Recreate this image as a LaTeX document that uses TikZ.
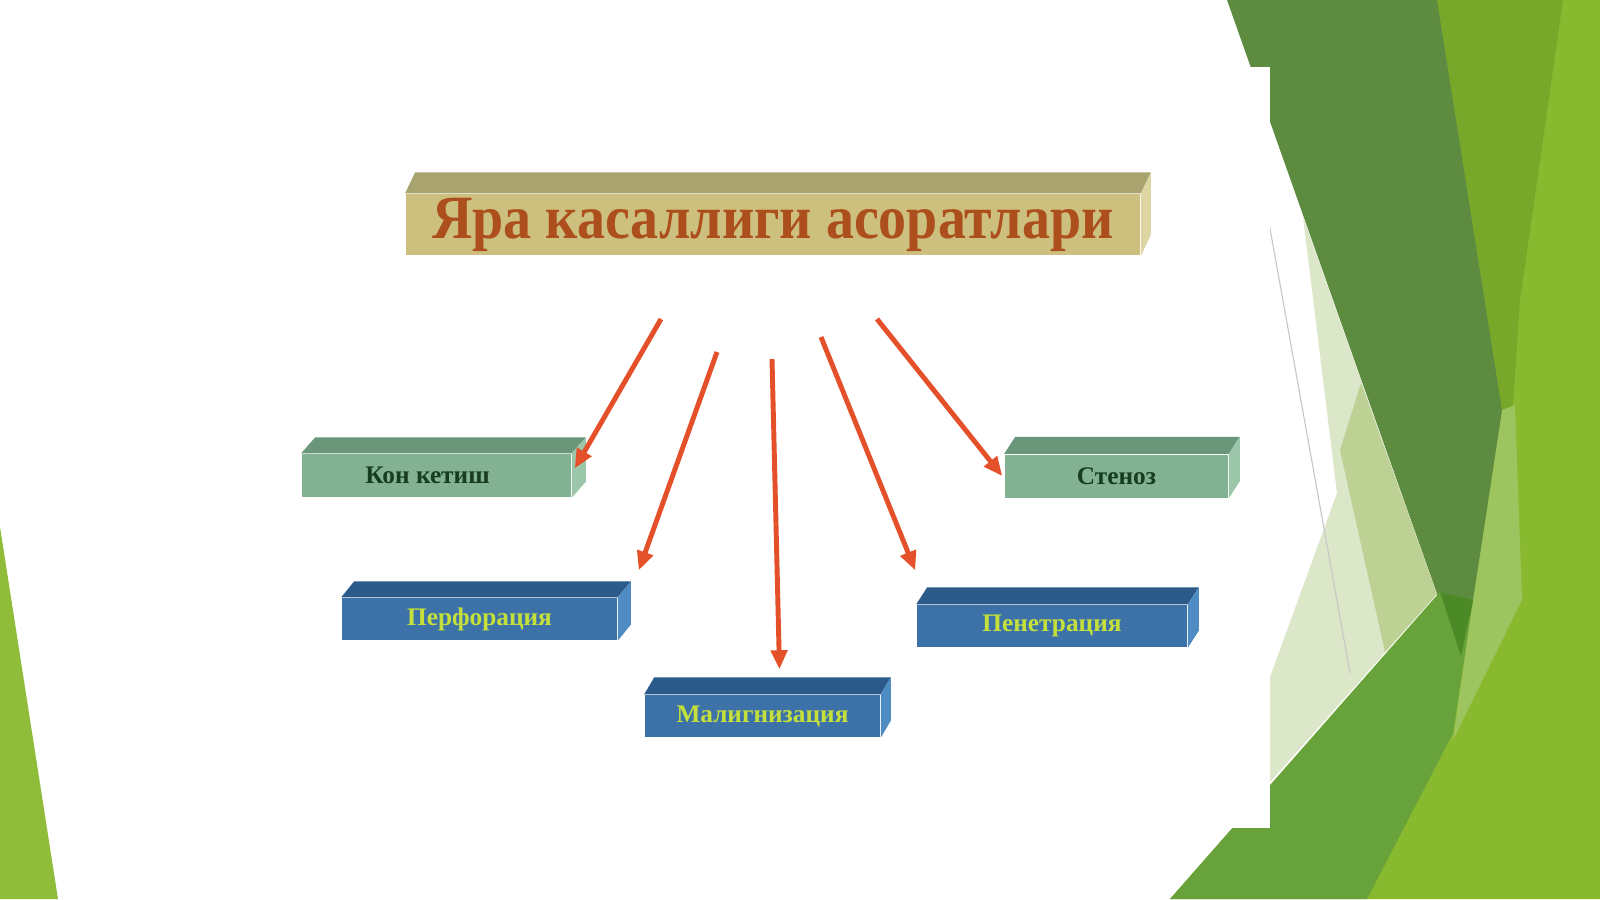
\documentclass[tikz,border=0pt]{standalone}
\usepackage{fontspec}
\setmainfont{Liberation Serif}
\usetikzlibrary{arrows.meta,calc}

\definecolor{leafdark}{HTML}{5D8B3F}
\definecolor{leafolive}{HTML}{78A82A}
\definecolor{leaflime}{HTML}{88B92F}
\definecolor{leaflight}{HTML}{9DC45E}
\definecolor{leafband}{HTML}{68A23B}
\definecolor{leaftip}{HTML}{4C8A28}
\definecolor{leafpale}{HTML}{DCE6C8}
\definecolor{leafmid}{HTML}{BDD194}
\definecolor{leafleft}{HTML}{8FBD3A}
\definecolor{khaki}{HTML}{CDBF7E}
\definecolor{khakitop}{HTML}{A9A36F}
\definecolor{khakiside}{HTML}{DDD6A2}
\definecolor{titlebrown}{HTML}{AD4F1C}
\definecolor{sage}{HTML}{82B292}
\definecolor{sagetop}{HTML}{6A977A}
\definecolor{sageside}{HTML}{9BC6AA}
\definecolor{sagetext}{HTML}{153D1E}
\definecolor{steel}{HTML}{3D72A8}
\definecolor{steeltop}{HTML}{2C5A8A}
\definecolor{steelside}{HTML}{4F8CC4}
\definecolor{steeltext}{HTML}{C5E03A}
\definecolor{arrowred}{HTML}{E4502A}

% top and right faces of a slab: node, top colour, side colour, depth x, depth y
\newcommand{\slabfaces}[5]{%
  \fill[#2] (#1.north west) -- ++(#4,-#5) -- ($(#1.north east)+(#4,-#5)$) -- (#1.north east) -- cycle;
  \fill[#3] (#1.north east) -- ++(#4,-#5) -- ($(#1.south east)+(#4,-#5)$) -- (#1.south east) -- cycle;}

\begin{document}
\begin{tikzpicture}[x=0.01cm,y=-0.01cm]
    % `slab' is the front face of every box, `link' the red arrows.
    \tikzstyle{slab} = [inner sep=0pt,font=\bfseries\fontsize{7.2}{9}\selectfont]
    \tikzstyle{greenslab} = [slab,fill=sage,text=sagetext,minimum height=0.43cm]
    \tikzstyle{blueslab} = [slab,fill=steel,text=steeltext,minimum height=0.42cm]
    \tikzstyle{titleslab} = [inner sep=0pt,fill=khaki,text=titlebrown,
      font=\bfseries\fontsize{17.5}{20}\selectfont,minimum width=7.34cm,minimum height=0.61cm]
    \tikzstyle{link} = [draw=arrowred,line width=1.4pt,-{Triangle[length=0.19cm,width=0.16cm]}]
    \useasboundingbox (0,0) rectangle (1600,899);
    %
    % Background.
    \fill[white] (0,0) rectangle (1600,899);
    \fill[leaflime] (1400,0) -- (1600,0) -- (1600,899) -- (1170,899) -- (1440,592) -- cycle;
    \fill[leafolive] (1437,0) -- (1563,0) -- (1520,300) -- (1512,420) -- (1502,410) -- cycle;
    \fill[leaflight] (1502,410) -- (1515,405) -- (1522,600) -- (1453,740) -- (1473,600) -- cycle;
    \fill[leafdark] (1227,0) -- (1437,0) -- (1502,410) -- (1473,600) -- (1460,658) -- (1437,594) -- cycle;
    \fill[leafpale] (1303,217) -- (1337,493) -- (1270,677) -- (1270,782) -- (1437,594) -- cycle;
    \fill[leafmid] (1361,383) -- (1437,594) -- (1385,652) -- (1340,450) -- cycle;
    \fill[leafband] (1440,592) -- (1473,600) -- (1453,733) -- (1367,899) -- (1170,899) -- cycle;
    \fill[leaftip] (1440,592) -- (1473,600) -- (1461,656) -- cycle;
    \draw[gray!45,line width=0.3pt] (1269,223) -- (1350,673);
    \fill[white] (60,67) rectangle (1270,828);
    \fill[leafleft] (0,527) -- (58,899) -- (0,899) -- cycle;
    %
    % Boxes.
    \node[titleslab] (title) at (773,224.5) {\scalebox{0.91}[1]{Яра касаллиги асоратлари}};
    \slabfaces{title}{khakitop}{khakiside}{10}{21}
    \node[greenslab,minimum width=2.69cm] (kon) at (436.5,475.5) {Кон кетиш\rule{0.18cm}{0pt}};
    \slabfaces{kon}{sagetop}{sageside}{14}{16}
    \node[greenslab,minimum width=2.23cm] (sten) at (1116.5,476) {Стеноз};
    \slabfaces{sten}{sagetop}{sageside}{11}{17}
    \node[blueslab,minimum width=2.75cm] (perf) at (479.5,619) {Перфорация};
    \slabfaces{perf}{steeltop}{steelside}{13}{16}
    \node[blueslab,minimum width=2.35cm] (malig) at (762.5,716) {Малигнизация};
    \slabfaces{malig}{steeltop}{steelside}{10}{17}
    \node[blueslab,minimum width=2.70cm] (pene) at (1052,626) {Пенетрация};
    \slabfaces{pene}{steeltop}{steelside}{11}{17}
    %
    % Arrows.
    \coordinate (s1) at (661,319);
    \coordinate (s2) at (717,352);
    \coordinate (s3) at (772,359);
    \coordinate (s4) at (821,337);
    \coordinate (s5) at (877,319);
    \draw[link] (s1) -- ($(kon.north east)+(3,15)$);
    \draw[link] (s2) -- ($(perf.north east)+(21,-27)$);
    \draw[link] (s3) -- ($(malig.north)+(17,-25)$);
    \draw[link] (s4) -- ($(pene.north west)+(-1,-34)$);
    \draw[link] (s5) -- ($(sten.west)+(-2,0)$);
\end{tikzpicture}
\end{document}
